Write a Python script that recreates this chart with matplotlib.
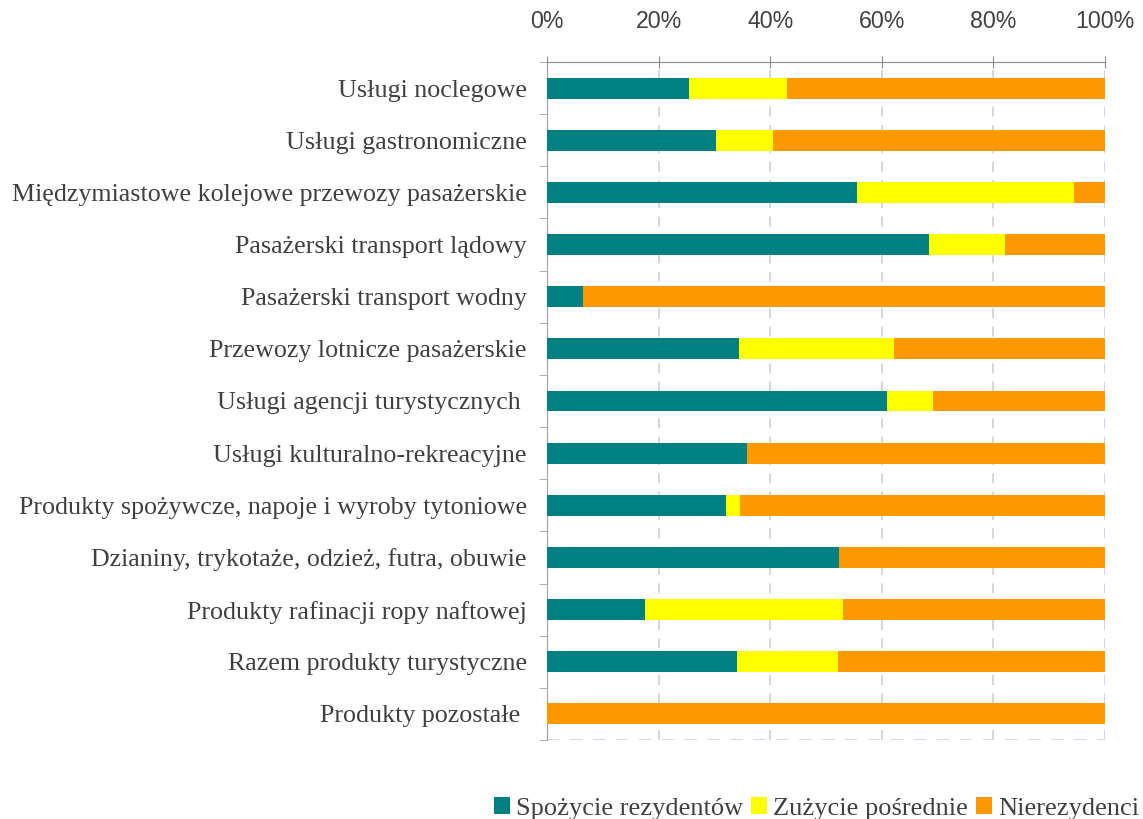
import numpy as np
import matplotlib
matplotlib.use("Agg")
import matplotlib.pyplot as plt
from matplotlib.ticker import FixedLocator, NullFormatter

# dane (udziały w %)
kategorie = [
    "Usługi noclegowe",
    "Usługi gastronomiczne",
    "Międzymiastowe kolejowe przewozy pasażerskie",
    "Pasażerski transport lądowy",
    "Pasażerski transport wodny",
    "Przewozy lotnicze pasażerskie",
    "Usługi agencji turystycznych ",
    "Usługi kulturalno-rekreacyjne",
    "Produkty spożywcze, napoje i wyroby tytoniowe",
    "Dzianiny, trykotaże, odzież, futra, obuwie",
    "Produkty rafinacji ropy naftowej",
    "Razem produkty turystyczne",
    "Produkty pozostałe ",
]
spozycie_rezydentow = [25.5, 30.3, 55.6, 68.5, 6.5, 34.4, 60.9, 35.9, 32.1, 52.3, 17.6, 34.1, 0.0]
zuzycie_posrednie = [17.5, 10.2, 38.8, 13.6, 0.0, 27.8, 8.3, 0.0, 2.5, 0.0, 35.4, 18.1, 0.0]
nierezydenci = [100 - a - b for a, b in zip(spozycie_rezydentow, zuzycie_posrednie)]

serie = ["Spożycie rezydentów", "Zużycie pośrednie", "Nierezydenci"]
kolory = ["#008080", "#ffff00", "#ff9900"]
tick_labels = ["0%", "20%", "40%", "60%", "80%", "100%"]

serif = ["Liberation Serif", "DejaVu Serif"]
sans = ["Liberation Sans", "DejaVu Sans"]

fig = plt.figure(figsize=(11.43, 8.19), dpi=100)
ax = fig.add_axes([547 / 1143, 1 - 740 / 819, 558 / 1143, 678 / 819])

y = np.arange(len(kategorie))
left = np.zeros(len(kategorie))
for nazwa, vals, c in zip(serie, [spozycie_rezydentow, zuzycie_posrednie, nierezydenci], kolory):
    ax.barh(y, vals, left=left, height=0.4, color=c, label=nazwa, zorder=3)
    left += np.array(vals)

ax.set_xlim(0, 100)
ax.set_ylim(len(kategorie) - 0.5, -0.5)

# siatka
for xv in [20, 40, 60, 80]:
    ax.axvline(xv, color="#d0d0d0", lw=1.2, ls=(0, (6, 5)), zorder=1)
ax.axvline(100, color="#c8c8f0", lw=1.2, ls=(0, (6, 5)), zorder=1)
ax.axhline(len(kategorie) - 0.5, color="#d8d8f4", lw=1.5, ls=(0, (6, 5)), zorder=1)

for s in ["right", "bottom"]:
    ax.spines[s].set_visible(False)
ax.spines["top"].set_color("#8c8c8c")
ax.spines["left"].set_color("#a0a0a8")

ax.xaxis.set_ticks_position("top")
ax.set_xticks([0, 20, 40, 60, 80, 100])
ax.set_xticklabels(tick_labels, fontfamily=sans, fontsize=16.7, color="#404040")
ax.tick_params(axis="x", direction="inout", length=8, color="#8c8c8c", pad=17)

ax.set_yticks(y)
ax.set_yticklabels(kategorie, fontfamily=serif, fontsize=18.7, color="#404040")
ax.tick_params(axis="y", length=0, pad=14.5)
ax.yaxis.set_minor_locator(FixedLocator(np.arange(-0.5, len(kategorie), 1.0)))
ax.yaxis.set_minor_formatter(NullFormatter())
ax.tick_params(axis="y", which="minor", length=6, color="#a0a0a8", direction="out")

fig.legend(loc="lower right", bbox_to_anchor=(1.0, -0.006), ncol=3, frameon=False,
           prop={"family": serif, "size": 19}, handlelength=0.62, handleheight=0.62,
           handletextpad=0.22, columnspacing=0.3, borderaxespad=0.0, borderpad=0.15)
for t in fig.legends[0].get_texts():
    t.set_color("#404040")

fig.savefig("out.png", dpi=100)
